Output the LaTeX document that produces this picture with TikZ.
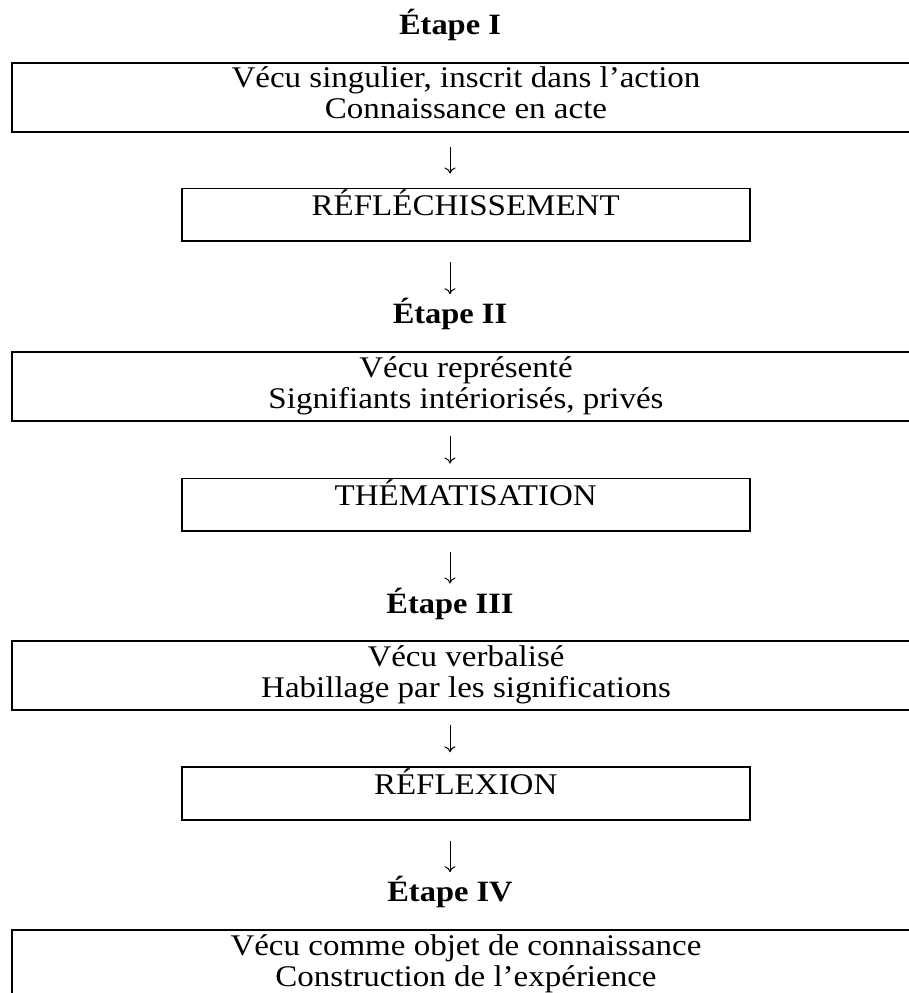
\documentclass[tikz,border=0pt]{standalone}
\usepackage{fontspec}
\setmainfont{Liberation Serif}[FakeStretch=1.1]
\usetikzlibrary{arrows.meta}

\begin{document}
\begin{tikzpicture}[>={To[length=6pt,width=11pt]}, x=1pt, y=-1pt,
  grand/.style={draw, line width=1.8pt, minimum width=908pt, minimum height=69pt, inner sep=0pt, outer sep=0pt},
  petit/.style={draw, line width=1.8pt, minimum width=568pt, minimum height=52.3pt, inner sep=0pt, outer sep=0pt},
  texte/.style={anchor=base, inner sep=0pt, font=\fontsize{30}{33}\selectfont},
  etape/.style={anchor=base, inner sep=0pt, font=\bfseries\fontsize{29.5}{33}\selectfont},
  fleche/.style={->, line width=1pt}]
  \useasboundingbox (0,0) rectangle (909,993);

  % Étape I
  \node[etape] (etI) at (450,34.7) {Étape I};
  \node[grand] (vecuI) at (466,97.2) {};
  \node[texte] (vecuIa) at ([yshift=-25pt]vecuI.north) {Vécu singulier, inscrit dans l’action};
  \node[texte] (vecuIb) at ([yshift=-56pt]vecuI.north) {Connaissance en acte};

  % Réfléchissement
  \node[petit] (refl) at (465.7,214.65) {};
  \node[texte] (reflt) at ([yshift=-27pt]refl.north) {RÉFLÉCHISSEMENT};
  \draw[fleche, shorten <=15pt, shorten >=15pt] (vecuI.south -| etI) -- (refl.north -| etI);

  % Étape II
  \node[etape] (etII) at (450,323.7) {Étape II};
  \draw[fleche, shorten <=21.5pt, shorten >=4pt] (refl.south -| etII) -- (etII.north);
  \node[grand] (vecuII) at (466,386.5) {};
  \node[texte] (vecuIIa) at ([yshift=-25pt]vecuII.north) {Vécu représenté};
  \node[texte] (vecuIIb) at ([yshift=-56pt]vecuII.north) {Signifiants intériorisés, privés};

  % Thématisation
  \node[petit] (them) at (465.7,504.65) {};
  \node[texte] (themt) at ([yshift=-27pt]them.north) {THÉMATISATION};
  \draw[fleche, shorten <=15pt, shorten >=15pt] (vecuII.south -| etII) -- (them.north -| etII);

  % Étape III
  \node[etape] (etIII) at (450,613) {Étape III};
  \draw[fleche, shorten <=21.5pt, shorten >=4pt] (them.south -| etIII) -- (etIII.north);
  \node[grand] (vecuIII) at (466,675.5) {};
  \node[texte] (vecuIIIa) at ([yshift=-25pt]vecuIII.north) {Vécu verbalisé};
  \node[texte] (vecuIIIb) at ([yshift=-56pt]vecuIII.north) {Habillage par les significations};

  % Réflexion
  \node[petit] (reflex) at (465.7,793.45) {};
  \node[texte] (reflext) at ([yshift=-27pt]reflex.north) {RÉFLEXION};
  \draw[fleche, shorten <=15pt, shorten >=15pt] (vecuIII.south -| etIII) -- (reflex.north -| etIII);

  % Étape IV
  \node[etape] (etIV) at (450,901.7) {Étape IV};
  \draw[fleche, shorten <=21.5pt, shorten >=4pt] (reflex.south -| etIV) -- (etIV.north);
  \node[grand] (vecuIV) at (466,964.5) {};
  \node[texte] (vecuIVa) at ([yshift=-25pt]vecuIV.north) {Vécu comme objet de connaissance};
  \node[texte] (vecuIVb) at ([yshift=-56pt]vecuIV.north) {Construction de l’expérience};
\end{tikzpicture}
\end{document}
